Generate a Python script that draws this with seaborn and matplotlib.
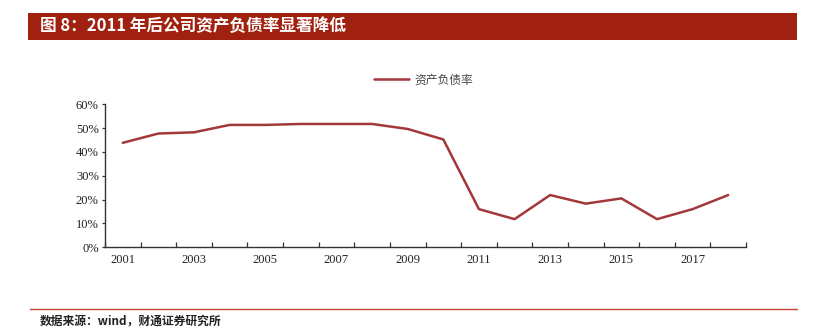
import numpy as np
import pandas as pd
import matplotlib
matplotlib.use("Agg")
import matplotlib.pyplot as plt
import seaborn as sns
from matplotlib.patches import Rectangle
from matplotlib.lines import Line2D

years = list(range(2001, 2019))
debt_ratio = [43.8, 47.7, 48.2, 51.3, 51.3, 51.7, 51.7, 51.7, 49.6, 45.2,
              16.0, 11.8, 21.9, 18.3, 20.5, 11.8, 16.0, 21.9]
series_name = "资产负债率"
title = "图 8：2011 年后公司资产负债率显著降低"
source = "数据来源：wind，财通证券研究所"
ytick_vals = [0, 10, 20, 30, 40, 50, 60]
xlabel_years = [2001, 2003, 2005, 2007, 2009, 2011, 2013, 2015, 2017]

sns.set_theme(style="ticks")
plt.rcParams['font.family'] = ['Noto Sans CJK SC', 'DejaVu Sans']

df = pd.DataFrame({"year": years, "value": [v / 100 for v in debt_ratio]})

fig = plt.figure(figsize=(8.14, 3.36), dpi=100)
ax = fig.add_axes([0.129, 0.264, 0.7875, 0.426])

line_color = "#A3383A"
sns.lineplot(data=df, x="year", y="value", ax=ax, color=line_color, linewidth=1.8, legend=False)

ax.set_xlim(2000.5, 2018.5)
ax.set_ylim(0, 0.6)
ax.set_xlabel("")
ax.set_ylabel("")

num_font = "Liberation Serif"
ax.set_yticks([v / 100 for v in ytick_vals])
ax.set_yticklabels([f"{v}%" for v in ytick_vals], fontfamily=num_font, fontsize=9, color="#222222")

ax.set_xticks(np.arange(2000.5, 2019.5, 1))
ax.set_xticklabels([""] * len(np.arange(2000.5, 2019.5, 1)))
ax.set_xticks(xlabel_years, minor=True)
ax.set_xticklabels([str(y) for y in xlabel_years], minor=True, fontfamily=num_font, fontsize=9, color="#222222")
ax.tick_params(axis="x", which="major", direction="in", length=3.5, width=0.9, color="#333333")
ax.tick_params(axis="x", which="minor", length=0, pad=5)
ax.tick_params(axis="y", direction="out", length=2.5, width=0.9, color="#333333", pad=2)

for s in ["top", "right"]:
    ax.spines[s].set_visible(False)
for s in ["left", "bottom"]:
    ax.spines[s].set_linewidth(1.0)
    ax.spines[s].set_color("#333333")

# legend
handle = Line2D([0], [0], color=line_color, linewidth=1.8)
leg = fig.legend([handle], [series_name], loc="center", bbox_to_anchor=(0.52, 0.762),
                 frameon=False, fontsize=8.5, handlelength=3.0, handletextpad=0.4)
for t in leg.get_texts():
    t.set_color("#444444")

# title bar
fig.patches.append(Rectangle((28 / 814, 1 - 40 / 336), (797 - 28) / 814, 27 / 336,
                             transform=fig.transFigure, facecolor="#A0210F", edgecolor="none"))
fig.text(40 / 814, 1 - 26.5 / 336, title, color="white", fontsize=12, fontweight="bold",
         va="center", ha="left")

# bottom rule and source
fig.add_artist(Line2D([30 / 814, 797 / 814], [1 - 309 / 336, 1 - 309 / 336],
                      transform=fig.transFigure, color="#C8452F", linewidth=1.0))
fig.text(40 / 814, 1 - 322 / 336, source, fontsize=8.5, fontweight="bold", color="#222222",
         va="center", ha="left")

fig.savefig("out.png", dpi=100)
